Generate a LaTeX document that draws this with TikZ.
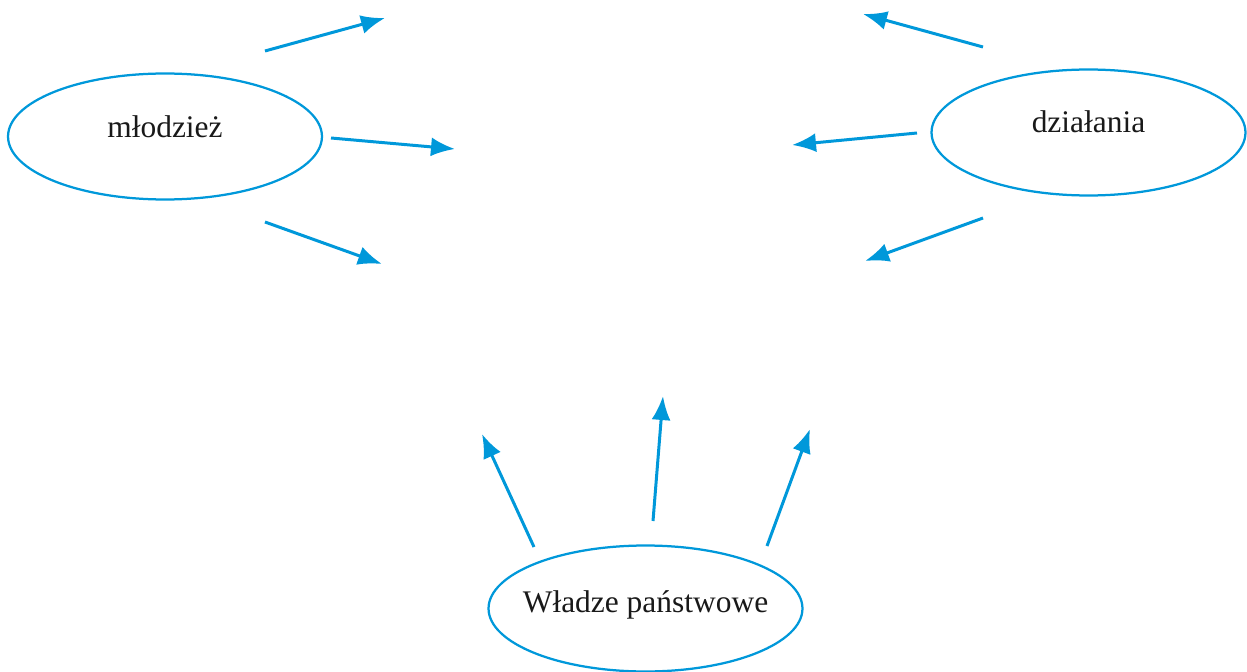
\documentclass[tikz,border=0pt]{standalone}
\usepackage{fontspec}
\setmainfont{Liberation Serif}
\usetikzlibrary{shapes.geometric,arrows.meta}
\definecolor{linkblue}{RGB}{0,152,218}

\begin{document}
\begin{tikzpicture}[
    x=0.02cm, y=-0.02cm,
    bubble/.style={ellipse, draw=linkblue, line width=0.045cm, minimum width=6.28cm, minimum height=2.52cm},
    caption/.style={anchor=base, inner sep=0pt, font=\fontsize{17.9}{21}\selectfont, text=black!90},
    link/.style={-{Latex[length=0.48cm, width=0.38cm]}, draw=linkblue, line width=0.06cm},
    ]
    \useasboundingbox (0,0) rectangle (1247,672);

    %% groups
    \node[bubble] (mlodziez) at (165,136.5) {};
    \node[bubble] (dzialania) at (1088.5,132.5) {};
    \node[bubble] (wladze) at (645.5,608.5) {};

    \node[caption] (mlodziez-txt) at ([yshift=-0.03cm]mlodziez.center) {młodzież};
    \node[caption] (dzialania-txt) at ([yshift=-0.01cm]dzialania.center) {działania};
    \node[caption] (wladze-txt) at ([yshift=-0.07cm]wladze.center) {Władze państwowe};

    %% free ends of the arrows
    % mlodziez
    \coordinate (m1a) at (265,51);  \coordinate (m1b) at (385,18);
    \coordinate (m2a) at (331,138); \coordinate (m2b) at (455,149);
    \coordinate (m3a) at (265,222); \coordinate (m3b) at (382,264);
    % dzialania
    \coordinate (d1a) at (983,47);  \coordinate (d1b) at (863,14);
    \coordinate (d2a) at (917,133); \coordinate (d2b) at (792,145);
    \coordinate (d3a) at (983,218); \coordinate (d3b) at (865,261);
    % wladze
    \coordinate (w1a) at (534,547); \coordinate (w1b) at (482,434);
    \coordinate (w2a) at (653,521); \coordinate (w2b) at (663,396);
    \coordinate (w3a) at (767,546); \coordinate (w3b) at (810,429);

    %% arrows
    % mlodziez arrows
    \draw[link] (m1a) -- (m1b);
    \draw[link] (m2a) -- (m2b);
    \draw[link] (m3a) -- (m3b);
    % dzialania arrows
    \draw[link] (d1a) -- (d1b);
    \draw[link] (d2a) -- (d2b);
    \draw[link] (d3a) -- (d3b);
    % wladze arrows
    \draw[link] (w1a) -- (w1b);
    \draw[link] (w2a) -- (w2b);
    \draw[link] (w3a) -- (w3b);

\end{tikzpicture}
\end{document}
